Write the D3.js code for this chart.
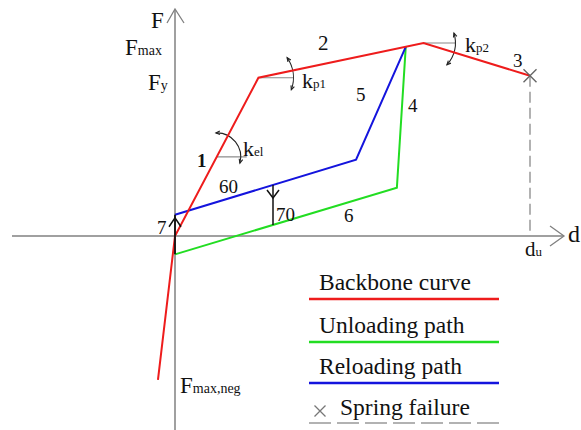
<!DOCTYPE html>
<html>
<head>
<meta charset="utf-8">
<script src="https://cdn.jsdelivr.net/npm/d3@7"></script>
<style>
  html, body { margin: 0; padding: 0; background: #fff; }
  svg { display: block; }
  text { font-family: "Liberation Serif", "Times New Roman", serif; fill: #111; }
</style>
</head>
<body>
<script>
// Force–displacement law of a nonlinear spring (d = displacement, F = force)
// Backbone: negative branch, origin, yield, peak, ultimate (failure)
const backboneD = [-0.48, 0, 2.35, 7.0, 10];
const backboneF = [-7.45, 0, 8.2, 10, 8.3];
// Unloading path from a point on the hardening branch
const unloadD = [6.5, 6.25, 0];
const unloadF = [9.8, 2.5, -0.95];
// Reloading path back to the same point
const reloadD = [0, 5.1, 6.5];
const reloadF = [1.1, 3.95, 9.8];
// Segment numbers along the paths
const segLabels = ["1", "2", "3", "4", "5", "6", "60", "70", "7"];
const legendLabels = ["Backbone curve", "Unloading path", "Reloading path", "Spring failure"];
const legendColors = ["#ee1c1c", "#22dd22", "#1414dd", "#999"];

const W = 581, H = 430;
const svg = d3.select("body").append("svg").attr("width", W).attr("height", H);

const x = d3.scaleLinear().domain([0, 10]).range([175, 530]);
const y = d3.scaleLinear().domain([0, 10]).range([236, 43]);

const zip = (a, b) => a.map((v, i) => [v, b[i]]);
const line = d3.line().x(d => x(d[0])).y(d => y(d[1]));

const axisColor = "#808080";

// Axes with open arrowheads
const ox = x(0), oy = y(0);
svg.append("line").attr("x1", 12).attr("x2", 563).attr("y1", oy).attr("y2", oy)
  .attr("stroke", axisColor).attr("stroke-width", 1.5);
svg.append("line").attr("x1", ox).attr("x2", ox).attr("y1", 10).attr("y2", H)
  .attr("stroke", axisColor).attr("stroke-width", 1.5);
svg.append("path").attr("d", `M${ox - 8},${23} L${ox},${9} L${ox + 9},${23}`)
  .attr("fill", "none").attr("stroke", axisColor).attr("stroke-width", 1.3);
svg.append("path").attr("d", `M550,${oy - 10} L564,${oy} L550,${oy + 10}`)
  .attr("fill", "none").attr("stroke", axisColor).attr("stroke-width", 1.3);

// Ultimate displacement guide
const dU = backboneD[4], fU = backboneF[4];
svg.append("line").attr("x1", x(dU)).attr("x2", x(dU)).attr("y1", y(fU)).attr("y2", oy)
  .attr("stroke", "#999").attr("stroke-width", 1.5).attr("stroke-dasharray", "11,5");

// Stiffness markers: horizontal reference + double-headed arc
function stiffMarker(cx, cy, r, hlen, a0, a1) {
  const g = svg.append("g");
  g.append("line").attr("x1", cx).attr("x2", cx + hlen).attr("y1", cy).attr("y2", cy)
    .attr("stroke", "#888").attr("stroke-width", 1.2);
  const p = d3.path();
  const r0 = a0 * Math.PI / 180, r1 = a1 * Math.PI / 180;
  p.arc(cx, cy, r, r0, r1, false);
  g.append("path").attr("d", p.toString()).attr("fill", "none")
    .attr("stroke", "#222").attr("stroke-width", 1.1);
  // small arrowheads at both ends, tangent to the arc
  [[r0, -1], [r1, 1]].forEach(([a, s]) => {
    const px = cx + r * Math.cos(a), py = cy + r * Math.sin(a);
    const tx = -Math.sin(a) * s, ty = Math.cos(a) * s; // direction of travel
    const nx = Math.cos(a), ny = Math.sin(a);
    const L = 4, Wd = 1.8;
    const bx = px - tx * L, by = py - ty * L;
    g.append("path")
      .attr("d", `M${bx + nx * Wd},${by + ny * Wd} L${px},${py} L${bx - nx * Wd},${by - ny * Wd}`)
      .attr("fill", "none").attr("stroke", "#222").attr("stroke-width", 1.1);
  });
}
// elastic stiffness on branch 1
const fEl = 4.1;
const dEl = backboneD[1] + (backboneD[2] - backboneD[1]) * (fEl - backboneF[1]) / (backboneF[2] - backboneF[1]);
stiffMarker(x(dEl), y(fEl), 24, 30, -92, 15);
stiffMarker(x(backboneD[2]), y(backboneF[2]), 35, 35, -35, 20);
stiffMarker(x(backboneD[3]), y(backboneF[3]), 32, 32, -18, 43);

// Paths
svg.append("path").attr("d", line(zip(unloadD, unloadF))).attr("fill", "none")
  .attr("stroke", legendColors[1]).attr("stroke-width", 2);
svg.append("path").attr("d", line(zip(reloadD, reloadF))).attr("fill", "none")
  .attr("stroke", legendColors[2]).attr("stroke-width", 2);
svg.append("path").attr("d", line(zip(backboneD, backboneF))).attr("fill", "none")
  .attr("stroke", legendColors[0]).attr("stroke-width", 2);

// Failure cross
function cross(cx, cy, s, color, sw) {
  svg.append("path").attr("d", `M${cx - s},${cy - s} L${cx + s},${cy + s} M${cx - s},${cy + s} L${cx + s},${cy - s}`)
    .attr("stroke", color).attr("stroke-width", sw).attr("fill", "none");
}
cross(x(dU), y(fU), 6.5, "#666", 1.4);

// Direction markers between reloading and unloading paths
const d70 = (273 - 175) / 35.5;
const yAt = (D, F, d) => F[0] + (F[1] - F[0]) * (d - D[0]) / (D[1] - D[0]);
const top70 = yAt([reloadD[0], reloadD[1]], [reloadF[0], reloadF[1]], d70);
const bot70 = yAt([unloadD[2], unloadD[1]], [unloadF[2], unloadF[1]], d70);
svg.append("line").attr("x1", x(d70)).attr("x2", x(d70)).attr("y1", y(top70)).attr("y2", y(bot70))
  .attr("stroke", "#111").attr("stroke-width", 1.5);
svg.append("path").attr("d", `M${x(d70) - 6},${y(top70) + 5} L${x(d70)},${y(top70) + 13} L${x(d70) + 6},${y(top70) + 5}`)
  .attr("stroke", "#111").attr("stroke-width", 1.5).attr("fill", "none");
svg.append("line").attr("x1", ox).attr("x2", ox).attr("y1", y(reloadF[0])).attr("y2", y(unloadF[2]))
  .attr("stroke", "#111").attr("stroke-width", 1.8);
svg.append("path").attr("d", `M${ox - 6},${y(reloadF[0]) + 12} L${ox},${y(reloadF[0]) + 3} L${ox + 6},${y(reloadF[0]) + 12}`)
  .attr("stroke", "#111").attr("stroke-width", 1.5).attr("fill", "none");

// Text helpers
function sub(xp, yp, main, s, size, subSize) {
  const t = svg.append("text").attr("x", xp).attr("y", yp).attr("font-size", size).text(main);
  if (s) t.append("tspan").attr("font-size", subSize).text(s);
  return t;
}
sub(151, 28, "F", null, 23);
sub(125, 55, "F", "max", 23, 14);
sub(148, 90, "F", "y", 23, 14);
sub(243, 156, "k", "el", 22, 13);
sub(302, 88, "k", "p1", 22, 13);
sub(465, 52, "k", "p2", 22, 13);
sub(525, 256, "d", "u", 21, 13);
sub(568, 242, "d", null, 24);
sub(180, 393, "F", "max,neg", 23, 14);

// Segment numbers
const segPos = [[197, 167], [318, 50], [513, 67], [408, 112], [356, 101], [344, 222], [219, 193], [276, 221], [157, 234]];
segLabels.forEach((s, i) => {
  svg.append("text").attr("x", segPos[i][0]).attr("y", segPos[i][1])
    .attr("font-size", s === "2" ? 21 : 19)
    .attr("font-weight", s === "1" ? "bold" : "normal")
    .text(s);
});

// Legend
const lg = svg.append("g");
const rowY = [290, 333, 374];
[0, 1, 2].forEach(i => {
  lg.append("text").attr("x", 319).attr("y", rowY[i]).attr("font-size", 23.5).text(legendLabels[i]);
  lg.append("line").attr("x1", 309).attr("x2", 499).attr("y1", rowY[i] + 9).attr("y2", rowY[i] + 9)
    .attr("stroke", legendColors[i]).attr("stroke-width", 2.5);
});
cross(320, 411, 5.5, "#777", 1.3);
lg.append("text").attr("x", 340).attr("y", 415).attr("font-size", 23.5).text(legendLabels[3]);
lg.append("line").attr("x1", 309).attr("x2", 503).attr("y1", 423).attr("y2", 423)
  .attr("stroke", legendColors[3]).attr("stroke-width", 1.5).attr("stroke-dasharray", "22,6");
</script>
</body>
</html>
